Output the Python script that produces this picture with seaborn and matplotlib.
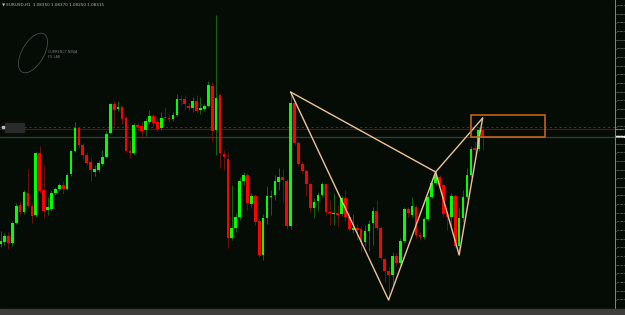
import numpy as np
import pandas as pd
import seaborn as sns
import matplotlib
matplotlib.use("Agg")
import matplotlib.pyplot as plt
from matplotlib.patches import Rectangle, Ellipse
from matplotlib.transforms import IdentityTransform

# ---------------- data (EURUSD H1 candles) ----------------
open_ = [1.07780, 1.07790, 1.07820, 1.07785, 1.07885, 1.07975, 1.07940, 1.08035, 1.07970, 1.07925,
         1.08235, 1.08050, 1.07950, 1.07955, 1.08035, 1.08055, 1.08075, 1.08055, 1.08130, 1.08245,
         1.08360, 1.08275, 1.08225, 1.08190, 1.08140, 1.08150, 1.08180, 1.08215, 1.08335, 1.08480,
         1.08455, 1.08465, 1.08410, 1.08245, 1.08235, 1.08375, 1.08370, 1.08350, 1.08390, 1.08420,
         1.08390, 1.08360, 1.08415, 1.08410, 1.08405, 1.08425, 1.08505, 1.08505, 1.08470, 1.08460,
         1.08495, 1.08450, 1.08455, 1.08470, 1.08570, 1.08350, 1.08525, 1.08230, 1.08205, 1.07810,
         1.07860, 1.07915, 1.08095, 1.08125, 1.07980, 1.08020, 1.07895, 1.07725, 1.07910, 1.08015,
         1.08025, 1.08090, 1.08115, 1.08095, 1.07870, 1.08485, 1.08285, 1.08180, 1.08145, 1.08080,
         1.07960, 1.07995, 1.08025, 1.08080, 1.07940, 1.07930, 1.07935, 1.07930, 1.08010, 1.07915,
         1.07850, 1.07860, 1.07855, 1.07790, 1.07845, 1.07885, 1.07945, 1.07860, 1.07705, 1.07645,
         1.07625, 1.07720, 1.07685, 1.07795, 1.07955, 1.07925, 1.07965, 1.07825, 1.07815, 1.07905,
         1.08015, 1.08085, 1.08115, 1.08075, 1.07930, 1.07915, 1.08020, 1.07770, 1.07910, 1.08015,
         1.08125, 1.08260, 1.08255, 1.08350]
high = [1.07845, 1.07835, 1.07840, 1.07895, 1.07985, 1.07995, 1.08050, 1.08155, 1.07980, 1.08240,
        1.08270, 1.08175, 1.08015, 1.08050, 1.08065, 1.08085, 1.08095, 1.08135, 1.08250, 1.08390,
        1.08365, 1.08285, 1.08240, 1.08215, 1.08175, 1.08200, 1.08250, 1.08345, 1.08485, 1.08495,
        1.08495, 1.08475, 1.08420, 1.08300, 1.08385, 1.08385, 1.08390, 1.08410, 1.08450, 1.08430,
        1.08410, 1.08440, 1.08465, 1.08425, 1.08440, 1.08530, 1.08525, 1.08525, 1.08485, 1.08515,
        1.08525, 1.08515, 1.08480, 1.08595, 1.08590, 1.08925, 1.08535, 1.08250, 1.08240, 1.08075,
        1.07935, 1.08115, 1.08140, 1.08135, 1.08035, 1.08030, 1.07910, 1.07930, 1.08070, 1.08050,
        1.08125, 1.08160, 1.08155, 1.08105, 1.08540, 1.08495, 1.08295, 1.08190, 1.08155, 1.08090,
        1.08010, 1.08040, 1.08090, 1.08085, 1.08000, 1.08035, 1.07975, 1.08020, 1.08050, 1.07940,
        1.07930, 1.07880, 1.07870, 1.07875, 1.07900, 1.07965, 1.08000, 1.07870, 1.07710, 1.07670,
        1.07740, 1.07735, 1.07810, 1.07965, 1.07965, 1.08015, 1.07975, 1.07840, 1.07915, 1.08025,
        1.08095, 1.08140, 1.08125, 1.08080, 1.07940, 1.08035, 1.08030, 1.07960, 1.08050, 1.08160,
        1.08270, 1.08295, 1.08365, 1.08370]
low = [1.07765, 1.07775, 1.07755, 1.07770, 1.07880, 1.07925, 1.07930, 1.07960, 1.07885, 1.07915,
       1.08035, 1.07910, 1.07925, 1.07945, 1.08025, 1.08045, 1.08030, 1.08050, 1.08120, 1.08240,
       1.08260, 1.08205, 1.08175, 1.08095, 1.08120, 1.08140, 1.08170, 1.08210, 1.08330, 1.08360,
       1.08445, 1.08380, 1.08240, 1.08210, 1.08230, 1.08345, 1.08310, 1.08320, 1.08380, 1.08365,
       1.08345, 1.08350, 1.08395, 1.08390, 1.08395, 1.08420, 1.08475, 1.08450, 1.08445, 1.08440,
       1.08435, 1.08430, 1.08445, 1.08465, 1.08290, 1.08225, 1.08160, 1.08150, 1.07760, 1.07800,
       1.07840, 1.07900, 1.08075, 1.07950, 1.07965, 1.07875, 1.07715, 1.07700, 1.07880, 1.07925,
       1.08000, 1.08050, 1.07990, 1.07855, 1.07855, 1.08275, 1.08170, 1.08135, 1.08020, 1.07940,
       1.07910, 1.07945, 1.08015, 1.07925, 1.07875, 1.07875, 1.07870, 1.07920, 1.07895, 1.07845,
       1.07835, 1.07800, 1.07740, 1.07770, 1.07745, 1.07775, 1.07850, 1.07700, 1.07590, 1.07500,
       1.07575, 1.07670, 1.07675, 1.07785, 1.07915, 1.07915, 1.07810, 1.07800, 1.07805, 1.07895,
       1.08010, 1.08075, 1.08065, 1.07915, 1.07850, 1.07860, 1.07760, 1.07725, 1.07890, 1.08005,
       1.08115, 1.08235, 1.08245, 1.08250]
close = [1.07795, 1.07820, 1.07785, 1.07885, 1.07970, 1.07940, 1.08040, 1.07970, 1.07920, 1.08235,
         1.08045, 1.07945, 1.07965, 1.08035, 1.08055, 1.08075, 1.08055, 1.08125, 1.08245, 1.08360,
         1.08275, 1.08225, 1.08185, 1.08150, 1.08155, 1.08185, 1.08215, 1.08330, 1.08480, 1.08450,
         1.08465, 1.08405, 1.08245, 1.08235, 1.08375, 1.08365, 1.08345, 1.08395, 1.08420, 1.08385,
         1.08355, 1.08410, 1.08410, 1.08405, 1.08425, 1.08505, 1.08500, 1.08480, 1.08460, 1.08495,
         1.08445, 1.08460, 1.08470, 1.08575, 1.08345, 1.08510, 1.08235, 1.08215, 1.07810, 1.07860,
         1.07915, 1.08095, 1.08125, 1.07985, 1.08020, 1.07890, 1.07725, 1.07910, 1.08020, 1.08020,
         1.08095, 1.08115, 1.08100, 1.07870, 1.08485, 1.08285, 1.08180, 1.08145, 1.08080, 1.07960,
         1.07990, 1.08025, 1.08080, 1.07940, 1.07935, 1.07935, 1.07925, 1.08010, 1.07915, 1.07855,
         1.07860, 1.07850, 1.07790, 1.07845, 1.07880, 1.07945, 1.07860, 1.07710, 1.07645, 1.07625,
         1.07720, 1.07685, 1.07795, 1.07955, 1.07935, 1.07970, 1.07825, 1.07815, 1.07905, 1.08015,
         1.08085, 1.08125, 1.08075, 1.07930, 1.07915, 1.08020, 1.07770, 1.07910, 1.08015, 1.08125,
         1.08255, 1.08250, 1.08350, 1.08315]

# harmonic pattern points X, A, B, C, D  (bar index, price)
pattern_idx = [74, 99, 111, 117, 123]
pattern_px = [1.08540, 1.07500, 1.08140, 1.07725, 1.08410]

# target zone box
zone_idx = [120, 139]
zone_px = [1.08315, 1.08425]

level_dotted = 1.08363
level_ask = 1.08353
level_bid = 1.08315

date_labels = ["2 May 2016", "2 May 04:00", "2 May 08:00", "2 May 12:00", "2 May 16:00", "2 May 20:00",
               "3 May 00:00", "3 May 04:00", "3 May 08:00", "3 May 12:00", "3 May 16:00", "3 May 20:00",
               "4 May 00:00", "4 May 04:00", "4 May 08:00", "4 May 12:00", "4 May 16:00", "4 May 20:00",
               "5 May 00:00", "5 May 04:00", "5 May 08:00", "5 May 12:00", "5 May 16:00", "5 May 20:00",
               "6 May 00:00", "6 May 04:00", "6 May 08:00", "6 May 12:00", "6 May 16:00", "6 May 20:00",
               "9 May 00:00", "9 May 04:00", "9 May 08:00", "9 May 12:00", "9 May 16:00", "9 May 20:00",
               "10 May 00:00", "10 May 04:00"]

title_text = "\u25bc EURUSD,H1  1.08350 1.08370 1.08250 1.08315"

# ---------------- styling ----------------
sns.set_theme(style="dark")
plt.rcParams['font.family'] = ['DejaVu Sans']
NARROW = ['Liberation Sans Narrow', 'DejaVu Sans']

BG = '#050b05'
W, H = 625, 315
fig = plt.figure(figsize=(W / 100, H / 100), dpi=100, facecolor=BG)
ax = fig.add_axes([0, 6 / H, 615 / W, 309 / H])
ax.set_facecolor(BG)

df = pd.DataFrame({"open": open_, "high": high, "low": low, "close": close})
df["x"] = np.arange(len(df))
df["up"] = df["close"] >= df["open"]

# wicks
wick_col = np.where(df["up"], '#157d15', '#8a1212')
ax.vlines(df["x"], df["low"], df["high"], colors=wick_col, lw=0.55, zorder=2)

# bodies
body_bottom = np.minimum(df["open"], df["close"])
body_h = np.maximum((df["close"] - df["open"]).abs(), 0.00003)
body_col = np.where(df["up"], '#00ff00', '#ff0000')
ax.bar(df["x"], body_h, bottom=body_bottom, width=0.68, color=body_col,
       edgecolor='none', zorder=3)

# horizontal levels
ax.axhline(level_dotted, color='#2c4a2c', lw=0.7, ls=(0, (2, 3)), zorder=1)
ax.axhline(level_ask, color='#7a0606', lw=0.8, zorder=1)
ax.axhline(level_bid, color='#3c3c3c', lw=0.9, zorder=1)

# pattern lines
pcol = '#efc497'
pat = pd.DataFrame({"x": pattern_idx, "y": pattern_px})
sns.lineplot(data=pat, x="x", y="y", sort=False, estimator=None, color=pcol, lw=1.0, ax=ax, zorder=4)
sns.lineplot(x=[pattern_idx[0], pattern_idx[2]], y=[pattern_px[0], pattern_px[2]],
             sort=False, estimator=None, color=pcol, lw=1.0, ax=ax, zorder=4)
sns.lineplot(x=[pattern_idx[2], pattern_idx[4]], y=[pattern_px[2], pattern_px[4]],
             sort=False, estimator=None, color=pcol, lw=1.0, ax=ax, zorder=4)

ax.add_patch(Rectangle((zone_idx[0], zone_px[0]), zone_idx[1] - zone_idx[0], zone_px[1] - zone_px[0],
                       fill=False, ec='#d06a1a', lw=1.1, zorder=5))

# axes limits: 3.92 px per bar, 0.00005 per px
ax.set_xlim(-0.5 / 3.92, 614.5 / 3.92)
ax.set_ylim(1.09000 - 309 * 0.00005, 1.09000)

# y ticks on the right
yt = 1.089715 - 0.0004325 * np.arange(0, 35)
ax.yaxis.tick_right()
ax.set_yticks(yt)
ax.set_yticklabels([f"{v:.5f}" for v in yt], family=NARROW)
ax.tick_params(axis='y', colors='#9a9a9a', labelcolor='#c8c8c8', labelsize=1.5, length=0.7,
               width=0.5, pad=0.2, right=True, left=False)
# x ticks (dates)
xt = 0.6 + 4 * np.arange(len(date_labels))
ax.set_xticks(xt)
ax.set_xticklabels(date_labels, ha='left', family=NARROW)
ax.tick_params(axis='x', colors='#9a9a9a', labelcolor='#d0d0d0', labelsize=1.7, length=1,
               width=0.4, pad=0.6, bottom=True)
ax.set_xlabel("")
ax.set_ylabel("")
ax.grid(False)
for s in ['top', 'left', 'bottom']:
    ax.spines[s].set_visible(False)
ax.spines['right'].set_visible(True)
ax.spines['right'].set_color('#9a9a9a')
ax.spines['right'].set_linewidth(0.6)

# bottom strip
fig.patches.append(Rectangle((0, 0), 1, 6 / H, transform=fig.transFigure, color='#3e3e3e', zorder=0))

# price boxes on the right
ytr = ax.get_yaxis_transform()
ax.text(1.0015, level_ask, f"{level_ask:.5f}", transform=ytr, fontsize=1.5, family=NARROW, color='white',
        va='center', ha='left', clip_on=False,
        bbox=dict(boxstyle='square,pad=0.15', fc='#d00000', ec='none'), zorder=6)
ax.text(1.0015, level_bid, f"{level_bid:.5f}", transform=ytr, fontsize=1.5, family=NARROW, color='black',
        va='center', ha='left', clip_on=False,
        bbox=dict(boxstyle='square,pad=0.15', fc='#e8e8e8', ec='none'), zorder=6)

# title
fig.text(2 / W, 1 - 4 / H, title_text, fontsize=3, color='#b8b8b8', va='center', ha='left')

# left object label box
fig.patches.append(Rectangle((5, H - 132), 19, 9, transform=IdentityTransform(), color='#2a2a2a', zorder=5))
fig.patches.append(Rectangle((2, H - 128), 2, 2, transform=IdentityTransform(), color='#bbbbbb', zorder=5))

# logo
fig.patches.append(Ellipse((33, H - 53), 44, 22, angle=60, transform=IdentityTransform(),
                           fill=False, ec='#4a4a4a', lw=0.6, zorder=5))
fig.text(48 / W, 1 - 52 / H, "CURRENCY NINJA", fontsize=2.4, color='#7a7a7a', va='center', ha='left')
fig.text(48 / W, 1 - 56.5 / H, "FX LAB", fontsize=2.4, color='#7a7a7a', va='center', ha='left')

fig.savefig("out.png", dpi=100, facecolor=BG)
